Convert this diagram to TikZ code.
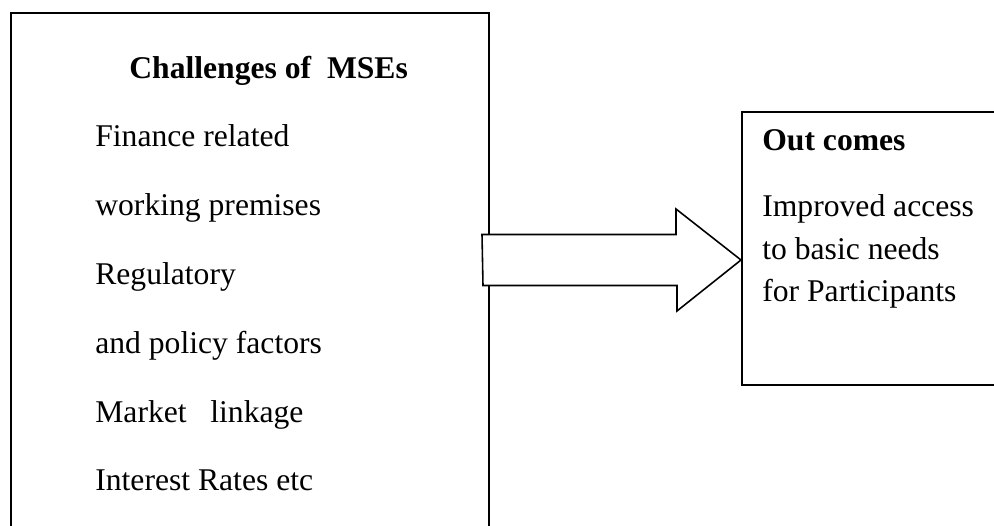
\documentclass[tikz,border=0pt]{standalone}
\usepackage{fontspec}
\setmainfont{Liberation Serif}
\usetikzlibrary{positioning}

\tikzset{
  boxx/.style={draw, line width=1.1pt, inner sep=0pt, anchor=north west},
  itemtxt/.style={anchor=base west, inner sep=0pt, font=\fontsize{18}{22}\selectfont},
  headtxt/.style={itemtxt, font=\fontsize{18}{22}\selectfont\bfseries},
  blockarrow/.style={draw, fill=white, line width=0.9pt, line join=miter}
}

\begin{document}
\begin{tikzpicture}[x=0.02cm,y=-0.02cm]
\clip (0,0) rectangle (994,526);

% the two boxes
\node[boxx, minimum width=9.554cm, minimum height=11cm] (mses) at (10,12) {};
\node[boxx, line width=1pt, minimum width=5.4cm, minimum height=5.46cm] (outc) at (741,111) {};

% left box text
\node[headtxt] (mtitle) at (129,79) {Challenges of\ \ MSEs};
\foreach \t [count=\i] in {Finance related,working premises,Regulatory,and policy factors,Market\ \ \ linkage,Interest Rates etc}
{
\node[itemtxt] (c\i) at (95,{147+68.8*(\i-1)}) {\t};
}

% right box text
\node[headtxt] (otitle) at (762,151) {Out comes};
\node[itemtxt] (o1) at (762,217) {Improved access};
\node[itemtxt] (o2) at (762,260) {to basic needs};
\node[itemtxt] (o3) at (762,302) {for Participants};

% block arrow
\coordinate (tail) at (482,260);
\coordinate (tip) at (outc.west |- tail);
\draw[blockarrow] (tail) ++(0,-25.5) -- ++(194,0) -- ++(0,-25.5) -- (tip) -- ++(-64,51) -- ++(0,-25.5) -- ++(-194,0) -- cycle;
\end{tikzpicture}
\end{document}
